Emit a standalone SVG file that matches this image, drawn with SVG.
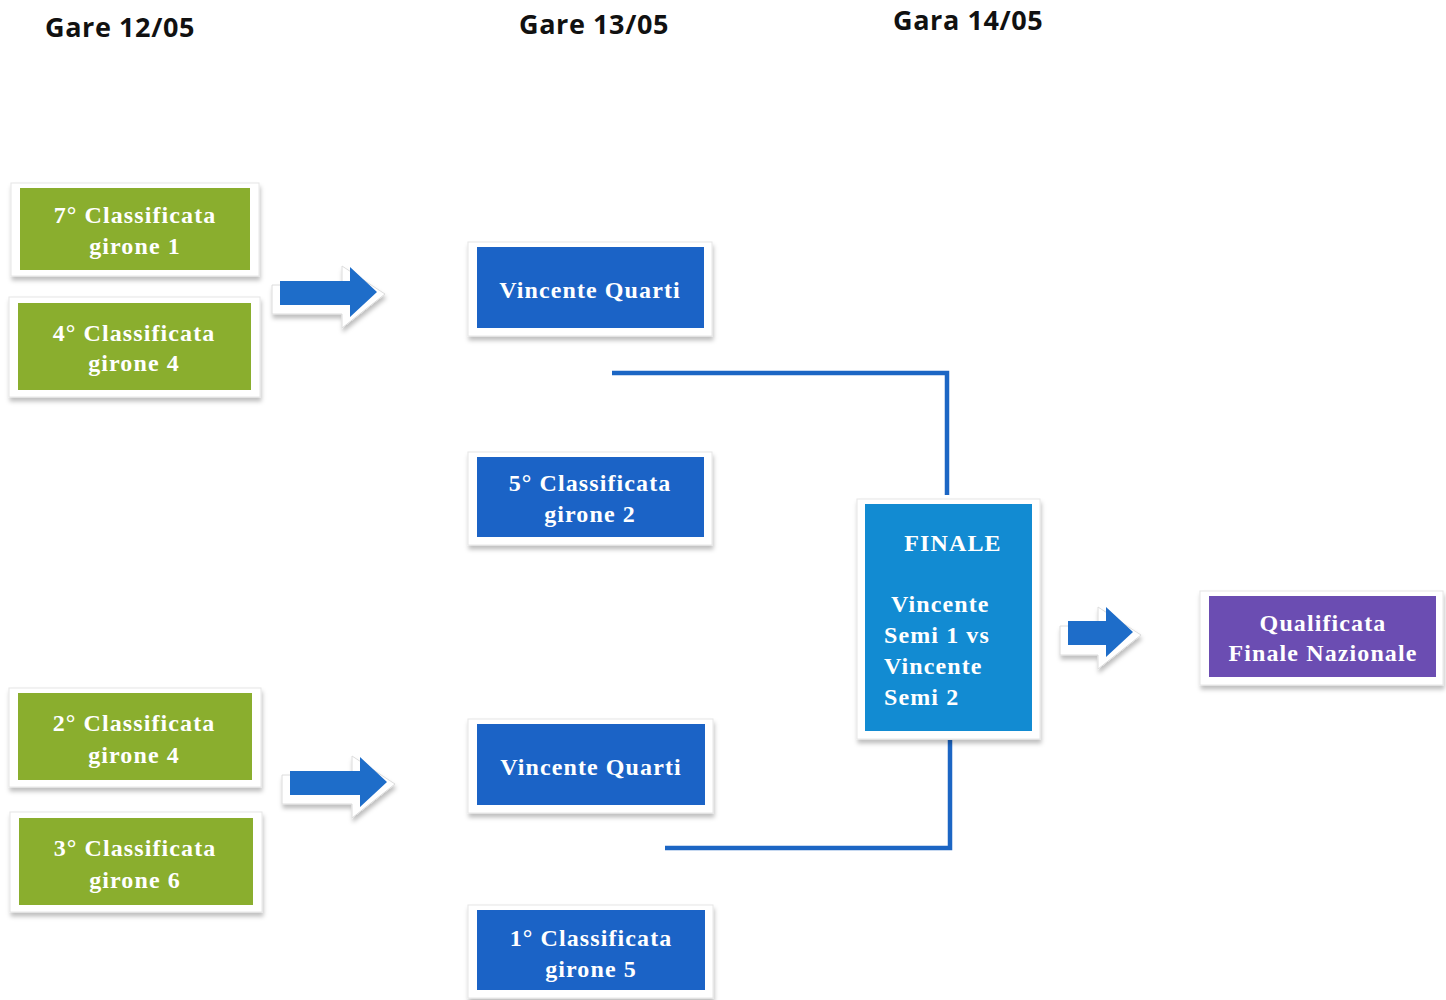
<svg xmlns="http://www.w3.org/2000/svg" width="1446" height="1000" viewBox="0 0 1446 1000">
<defs>
<filter id="sh" x="-10%" y="-20%" width="120%" height="150%">
<feDropShadow dx="1" dy="4" stdDeviation="2" flood-color="#000" flood-opacity="0.25"/>
</filter>
</defs>
<style>
.hdr{font-family:"Open Sans","Liberation Sans",sans-serif;font-weight:bold;font-size:27px;fill:#111;letter-spacing:0.6px}
.t{font-family:"Liberation Serif","Times New Roman",serif;font-weight:bold;font-size:24px;fill:#fff;text-anchor:middle;letter-spacing:1.1px}
.tl{font-family:"Liberation Serif","Times New Roman",serif;font-weight:bold;font-size:24px;fill:#fff;letter-spacing:1.1px}
.frame{fill:#fff;stroke:#e6e6e6;stroke-width:1;filter:url(#sh)}
.green{fill:#8aae2e}
.blue{fill:#1b63c6}
.fin{fill:#128bd2}
.purple{fill:#6b4db2}
.conn{fill:none;stroke:#1c66c4;stroke-width:4.5}
.arr{fill:#1e6dc9}
.arrsh{fill:#fff;stroke:#dcdcdc;stroke-width:1;filter:url(#sh)}
</style>
<rect width="1446" height="1000" fill="#fff"/>
<g id="headers">
<text class="hdr" x="45" y="37">Gare 12/05</text>
<text class="hdr" x="519" y="34">Gare 13/05</text>
<text class="hdr" x="893" y="30">Gara 14/05</text>
</g>
<g id="connectors">
<polyline class="conn" points="612,373 947,373 947,495"/>
<polyline class="conn" points="950,740 950,848 665,848"/>
<g id="arrow1">
<path class="arrsh" d="M272,285 L342,285 L342,266 L385,294 L342,328 L342,314 L272,314 Z"/>
<path class="arr" d="M280,281 L350,281 L350,267 L377,292 L350,317 L350,305 L280,305 Z"/>
</g>
<g id="arrow2">
<path class="arrsh" d="M282,775 L352,775 L352,756 L395,784 L352,818 L352,804 L282,804 Z"/>
<path class="arr" d="M290,771 L360,771 L360,757 L387,782 L360,807 L360,795 L290,795 Z"/>
</g>
<g id="arrow3">
<path class="arrsh" d="M1060,626 L1098,626 L1098,607 L1141,635 L1098,669 L1098,655 L1060,655 Z"/>
<path class="arr" d="M1068,621 L1106,621 L1106,607 L1133,632 L1106,657 L1106,645 L1068,645 Z"/>
</g>
</g>
<g id="n7c1">
<rect class="frame" x="11" y="183" width="248" height="93"/>
<rect class="green" x="20" y="188" width="230" height="82"/>
<text class="t" x="135" y="223">7° Classificata</text>
<text class="t" x="135" y="254">girone 1</text>
</g>
<g id="n4c4">
<rect class="frame" x="9" y="297" width="251" height="100"/>
<rect class="green" x="18" y="303" width="233" height="87"/>
<text class="t" x="134" y="341">4° Classificata</text>
<text class="t" x="134" y="371">girone 4</text>
</g>
<g id="n2c4">
<rect class="frame" x="9" y="688" width="252" height="99"/>
<rect class="green" x="18" y="693" width="234" height="87"/>
<text class="t" x="134" y="731">2° Classificata</text>
<text class="t" x="134" y="763">girone 4</text>
</g>
<g id="n3c6">
<rect class="frame" x="10" y="812" width="252" height="100"/>
<rect class="green" x="19" y="818" width="234" height="87"/>
<text class="t" x="135" y="856">3° Classificata</text>
<text class="t" x="135" y="888">girone 6</text>
</g>
<g id="vq1">
<rect class="frame" x="468" y="242" width="244" height="94"/>
<rect class="blue" x="477" y="247" width="227" height="81"/>
<text class="t" x="590" y="298">Vincente Quarti</text>
</g>
<g id="n5c2">
<rect class="frame" x="468" y="452" width="244" height="93"/>
<rect class="blue" x="477" y="457" width="227" height="80"/>
<text class="t" x="590" y="491">5° Classificata</text>
<text class="t" x="590" y="522">girone 2</text>
</g>
<g id="vq2">
<rect class="frame" x="468" y="719" width="245" height="94"/>
<rect class="blue" x="477" y="724" width="228" height="81"/>
<text class="t" x="591" y="775">Vincente Quarti</text>
</g>
<g id="n1c5">
<rect class="frame" x="468" y="905" width="245" height="93"/>
<rect class="blue" x="477" y="910" width="228" height="80"/>
<text class="t" x="591" y="946">1° Classificata</text>
<text class="t" x="591" y="977">girone 5</text>
</g>
<g id="finale">
<rect class="frame" x="857" y="499" width="183" height="240"/>
<rect class="fin" x="865" y="504" width="167" height="227"/>
<text class="t" x="953" y="551">FINALE</text>
<text class="tl" x="891" y="612">Vincente</text>
<text class="tl" x="884" y="643">Semi 1 vs</text>
<text class="tl" x="884" y="674">Vincente</text>
<text class="tl" x="884" y="705">Semi 2</text>
</g>
<g id="qualificata">
<rect class="frame" x="1200" y="591" width="243" height="94"/>
<rect class="purple" x="1209" y="596" width="227" height="81"/>
<text class="t" x="1323" y="631">Qualificata</text>
<text class="t" x="1323" y="661">Finale Nazionale</text>
</g>
</svg>
